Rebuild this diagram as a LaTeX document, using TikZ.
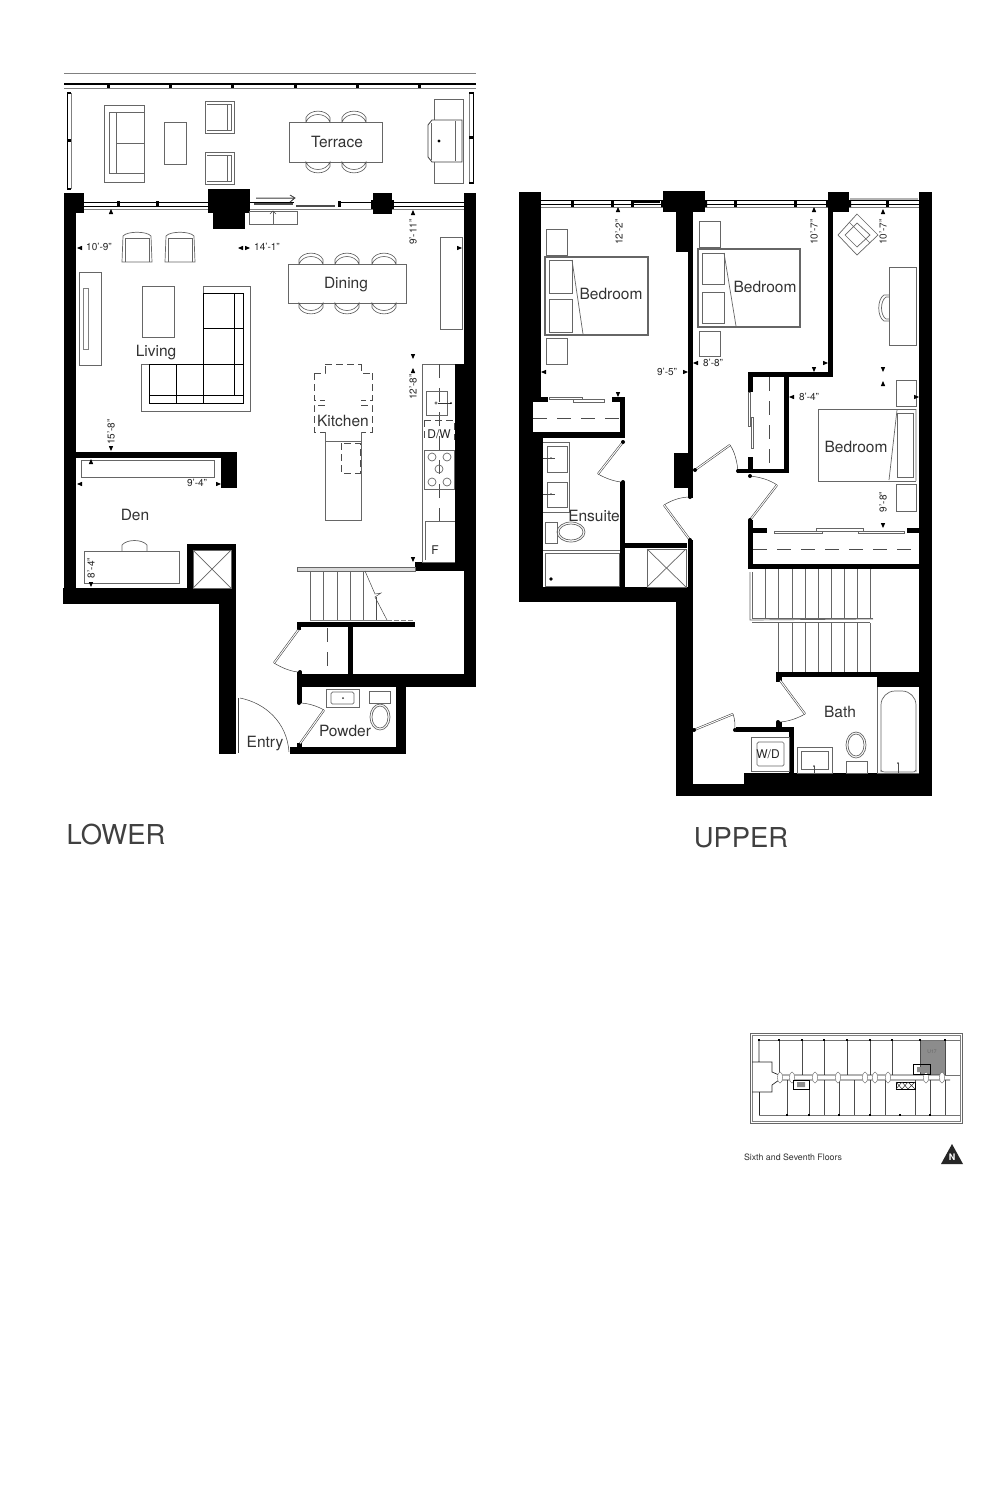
\documentclass[tikz,border=0pt]{standalone}
\usepackage{fontspec}
\setmainfont{TeX Gyre Heros}
\newcommand\W[4]{\fill[black] (#1,#2) rectangle (#3,#4);}
\newcommand\F[4]{\draw[furn] (#1,#2) rectangle (#3,#4);}
\newcommand\Tri[3]{\fill[black,shift={(#1,#2)},rotate=#3] (0,0)--(-5,-2.2)--(-5,2.2)--cycle;}
\newcommand\Win[3]{\draw[winline] (#1,#3) -- (#2,#3); \draw[winline] (#1,#3+4.5) -- (#2,#3+4.5); \draw[gray,line width=.7pt] (#1,#3+7) -- (#2,#3+7);}
\newcommand\Chair[3]{\draw[chairl] (#1,#2) .. controls (#1+4,#2+#3) and (#1+20,#2+#3) .. (#1+24,#2) -- (#1+24,#2+#3*.45) .. controls (#1+20,#2+#3*1.3) and (#1+4,#2+#3*1.3) .. (#1,#2+#3*.45) -- cycle;}
\tikzset{
 furn/.style={draw=black!60,line width=.7pt},
 thin line/.style={draw=black!70,line width=.5pt},
 chairl/.style={draw=black!65,line width=.6pt},
 winline/.style={draw=black,line width=1pt},
 leaf/.style={draw=black!75,double=white,double distance=1pt,line width=.55pt},
 swing/.style={draw=black!75,line width=.5pt},
 dashl/.style={draw=black!70,line width=.6pt,dash pattern=on 14pt off 10pt},
 dashs/.style={draw=black!70,line width=.6pt,dash pattern=on 7pt off 4pt},
 room/.style={text=black!80,font=\fontsize{15.5}{17}\selectfont,inner sep=0pt},
 dim/.style={text=black!85,font=\fontsize{10}{11}\selectfont,inner sep=0pt},
 title/.style={text=black!75,font=\fontsize{27.4}{30}\selectfont,inner sep=0pt},
}
\begin{document}
\begin{tikzpicture}[x=1pt,y=-1pt]
\useasboundingbox (0,0) rectangle (1000,1500);
\fill[white] (0,0) rectangle (1000,1500);
%% ============ LOWER: terrace
\draw[gray,line width=.7pt] (64,73) -- (476,73);
\draw[black,line width=1.6pt] (64,84) -- (476,84);
\draw[gray,line width=.9pt] (64,88) -- (476,88);
\foreach \x in {108,170,232,295,357,419} \W{\x-1.5}{84}{\x+1.5}{88}
\draw[gray,line width=.7pt] (71,93)--(71,189);
\draw[black,line width=1.2pt] (71,93)--(67.5,93)--(67.5,189)--(71,189);
\W{67}{139}{71}{142}
\draw[gray,line width=.7pt] (469,93)--(469,183);
\draw[black,line width=1.2pt] (469,93)--(473.5,93)--(473.5,183)--(469,183);
\W{469}{136}{473}{139}
\F{104}{105}{144}{182}
\F{109}{112}{144}{173}
\draw[furn] (116,112)--(116,173) (116,143)--(144,143);
\F{164}{122}{186}{164}
\foreach \y in {101,152}{
 \F{205}{\y}{234}{\y+32}
 \draw[furn] (207,\y+3)--(231,\y+3)--(231,\y+29)--(207,\y+29);
 \draw[furn] (227,\y+3)--(227,\y+29);}
\F{289}{122}{382}{162}
\foreach \x in {306,342}{\Chair{\x}{122}{-10}\Chair{\x}{162}{10}}
\F{434}{99}{463}{183}
\draw[black!75,line width=.8pt,fill=white] (432,120)--(462,120)--(462,162)--(432,162)--(428,157)--(428,125)--cycle;
\draw[furn] (455,121)--(455,161) (431,123)--(431,160);
\fill[black] (439,141) circle (1.6);
%% lower piers and walls
\W{64}{193}{76}{604}
\W{66}{193}{84}{213}
\W{64}{200}{66}{210}
\W{208}{189}{250}{213}
\W{213}{213}{245}{229}
\W{373}{193}{392}{214}
\W{371}{200}{394}{210}
\W{464}{193}{476}{687}
\W{455}{364}{464}{571}
\W{415}{562}{464}{571}
\W{76}{452}{237}{458}
\W{221}{458}{237}{488}
\W{63}{588}{236}{604}
\W{219}{588}{236}{754}
\W{187}{544}{236}{550}
\W{187}{544}{193}{588}
\W{231}{544}{236}{588}
\W{297}{622}{415}{627}
\W{297}{627}{301}{630}
\W{348}{627}{353}{674}
\W{297}{674}{476}{687}
\W{297}{672}{302}{703}
\W{396}{687}{406}{754}
\W{290}{747}{406}{754}
\W{297}{743}{302}{747}
%% lower windows
\Win{84}{208}{202}
\Win{392}{464}{202}
\draw[gray,line width=.7pt] (250,209)--(373,209);
\draw[winline] (250,202)--(294,202) (340,202)--(373,202);
\draw[black!70,line width=2pt] (254,204)--(293,204);
\draw[black!70,line width=1.5pt] (296,206)--(335,206);
\foreach \x in {118,157,339} \W{\x-1.5}{201}{\x+1.5}{207}
\draw[thin line] (256,198)--(294,198) (290,195)--(295,198)--(290,202);
\F{249}{211}{297}{224}
\draw[furn] (273,211)--(273,224);
\draw[thin line] (270,214)--(273,211)--(276,214);
%% living
\foreach \x in {122,165}{
 \draw[furn] (\x,262)--(\x+1,236)..controls(\x+5,231)and(\x+25,231)..(\x+29,236)--(\x+30,262)--cycle;
 \draw[furn] (\x+3,262)--(\x+3,238)--(\x+27,238)--(\x+27,262);}
\F{79}{272}{101}{365}
\draw[gray,line width=.9pt] (83,288) rectangle (88,349);
\F{142}{286}{174}{337}
\draw[furn] (203,364)--(203,286)--(250,286)--(250,411)--(141,411)--(141,364)--cycle;
\draw[furn,black] (203,293)--(243,293)--(243,403)--(149,403)--(149,364);
\draw[furn,black] (234,293)--(234,395) (203,328)--(243,328) (149,364)--(243,364) (176,364)--(176,403) (203,293)--(203,403) (149,395)--(243,395);
\F{288}{264}{406}{303}
\foreach \x in {299,335,372}{\Chair{\x}{264}{-10}\Chair{\x}{303}{10}}
\F{440}{237}{462}{329}
%% kitchen
\draw[furn] (422,364)--(422,562)--(455,562);
\draw[furn] (422,364)--(455,364);
\draw[dashl] (439,364)--(439,521);
\F{426}{391}{447}{415}
\draw[furn] (436,403) circle (1.2);
\draw[black!80,line width=.6pt] (438,403)--(451,403);
\fill[black] (451,403) circle (1);
\draw[dashs] (424,420)--(424,440) (424,420)--(454,420)--(454,440);
\F{424}{450}{454}{489}
\foreach \x/\y in {432/457,447/457,432/482,447/482,439/469} \draw[furn] (\x,\y) circle (4);
\draw[furn] (425,560)--(425,521)--(455,521);
\draw[dashs] (325,364)--(361,364);
\draw[dashs] (314,373)--(325,373)--(325,364) (361,364)--(361,373)--(372,373);
\draw[dashs] (314,373)--(314,400)--(325,400) (372,373)--(372,400)--(361,400);
\draw[dashs] (325,405)--(314,405)--(314,432)--(325,432) (361,405)--(372,405)--(372,432)--(361,432);
\draw[furn] (325,432)--(325,520)--(361,520)--(361,432) (325,441)--(361,441);
\draw[dashs] (341,443) rectangle (360,473);
%% den
\F{81}{460}{214}{477}
\F{84}{551}{179}{583}
\draw[furn] (122,551)--(122,545)..controls(127,539)and(142,539)..(147,545)--(147,551);
\draw[furn] (193,550)--(231,588) (231,550)--(193,588);
\draw[furn] (193,550) rectangle (231,588);
%% stair
\fill[black!15] (297,567) rectangle (415,571);
\draw[furn] (297,567) rectangle (415,571);
\foreach \x in {310,323,337,350,363} \draw[furn] (\x,571)--(\x,620);
\draw[thin line] (365,571)--(375,594)--(381,593)--(375,597)--(387,620);
\draw[thin line] (376,597)--(376,620);
\draw[gray,line width=.7pt] (310,620)--(387,620);
\draw[gray,line width=.7pt,dash pattern=on 5pt off 2pt] (387,620)--(415,620);
%% lower doors
\draw[leaf] (299,629)--(274,663);
\draw[swing] (274,663)..controls(282,668)and(292,672)..(300,672);
\draw[dashl] (327,628)--(327,672);
\draw[leaf] (239,698)--(239,753);
\draw[swing] (240,698)..controls(265,703)and(287,722)..(289,752);
\draw[leaf] (299,745)--(324,710);
\draw[swing] (299,703)..controls(308,703)and(317,706)..(324,710);
\fill[black] (299,703) circle (2) (299,745) circle (2) (299,628) circle (2) (300,672) circle (2);
%% powder
\F{326}{689}{359}{707}
\draw[furn,rounded corners=1.5pt] (331,692) rectangle (354,704);
\fill[black!80] (343,698) circle (1);
\F{369}{691}{390}{703}
\draw[furn] (380,717) ellipse (10 and 13);
\draw[furn] (380,717) ellipse (8 and 11);
%% lower labels
\node[room] (terrace) at (337,142) {Terrace};
\node[room] (dining) at (346,285) {Dining};
\node[room] (living) at (156,353) {Living};
\node[room] (kitchen) at (343,421) {Kitchen};
\node[room] (den) at (135,515) {Den};
\node[room] (entry) at (265,744) {Entry};
\node[room] (powder) at (345,731) {Powder};
\node[dim,font=\fontsize{12}{13}\selectfont] (dw) at (439,434) {D/W};
\node[dim,font=\fontsize{12}{13}\selectfont] (fr) at (435,550) {F};
\node[dim] (d1) at (99,247) {10'-9''};
\node[dim] (d2) at (267,247) {14'-1''};
\node[dim,rotate=90] (d3) at (413,232) {9'-11''};
\node[dim,rotate=90] (d4) at (413,387) {12'-8''};
\node[dim,rotate=90] (d5) at (111,432) {15'-8''};
\node[dim] (d6) at (197,483) {9'-4''};
\node[dim,rotate=90] (d7) at (91,568) {8'-4''};
\Tri{111}{209}{90}\Tri{77}{248}{180}\Tri{238}{248}{180}\Tri{250}{248}{0}
\Tri{413}{210}{90}\Tri{462}{248}{0}\Tri{413}{359}{270}\Tri{413}{368}{90}
\Tri{111}{451}{270}\Tri{91}{459}{90}\Tri{77}{484}{180}\Tri{221}{484}{0}
\Tri{91}{587}{270}\Tri{413}{562}{270}
\node[title] (lower) at (116,835) {LOWER};
%% ============ UPPER
\W{519}{192}{541}{397}
\W{519}{397}{533}{602}
\W{533}{432}{543}{587}
\W{533}{397}{548}{402}
\W{612}{397}{625}{402}
\W{620}{397}{625}{438}
\W{533}{432}{625}{438}
\W{620}{482}{625}{587}
\W{625}{543}{687}{548}
\W{519}{587}{693}{602}
\W{676}{587}{693}{796}
\W{688}{540}{693}{600}
\W{919}{192}{932}{796}
\W{663}{191}{705}{212}
\W{676}{212}{693}{252}
\W{688}{252}{693}{453}
\W{674}{453}{693}{488}
\W{688}{488}{693}{498}
\W{828}{192}{849}{212}
\W{828}{212}{833}{377}
\W{748}{372}{833}{377}
\W{748}{372}{753}{392}
\W{784}{377}{789}{473}
\W{748}{457}{753}{473}
\W{737}{469}{789}{473}
\W{748}{520}{753}{569}
\W{753}{528}{767}{533}
\W{907}{528}{919}{533}
\W{748}{564}{919}{569}
\W{776}{672}{919}{677}
\W{877}{672}{919}{687}
\W{776}{677}{782}{682}
\W{776}{722}{782}{727}
\W{736}{727}{794}{732}
\W{789}{727}{794}{773}
\W{744}{773}{932}{784}
\W{693}{784}{932}{796}
%% upper windows
\Win{541}{663}{200}
\Win{705}{828}{200}
\Win{849}{919}{200}
\W{634}{200}{660}{203}
\foreach \x in {572,612,632,735,795,887} \W{\x-1.5}{200}{\x+1.5}{207}
\draw[black!30,line width=2pt] (850,199)--(918,199);
\fill[black] (661,200) rectangle (663,207) (705,200) rectangle (707,207) (826,200) rectangle (828,207) (849,200) rectangle (851,207);
%% bedrooms
\draw[black!60,line width=1.2pt] (545,257) rectangle (648,335);
\F{549}{260}{572}{293}\F{549}{299}{572}{332}
\draw[furn] (572,260)--(583,334);
\F{546}{229}{567}{255}\F{546}{338}{567}{364}
\draw[black!60,line width=1.2pt] (698,249) rectangle (800,327);
\F{702}{253}{724}{284}\F{702}{292}{724}{323}
\draw[furn] (724,253)--(736,326);
\F{699}{221}{720}{247}\F{699}{331}{720}{356}
\draw[furn] (857,214)--(878,235)--(857,255)--(838,235)--cycle;
\draw[furn] (849,222)--(870,243) (845,235)--(857,223)--(870,235)--(857,247)--cycle;
\F{889}{267}{916}{345}
\draw[furn] (889,295)--(884,295)..controls(877,299)and(877,317)..(884,321)--(889,321);
\draw[furn] (889,297)--(886,297)..controls(880,301)and(880,315)..(886,319)--(889,319);
\F{896}{380}{916}{406}
\draw[furn] (916,409)--(818,409)--(818,481)--(916,481);
\F{897}{413}{913}{477}
\draw[furn] (897,410)--(889,480) (916,409)--(916,481);
\F{896}{484}{916}{511}
%% closets
\draw[dashl] (533,418)--(620,418);
\F{549}{397}{582}{399}\F{573}{399}{604}{402}
\F{748}{392}{750}{426}\F{751}{417}{753}{448}
\draw[dashl] (769,377)--(769,469);
\F{774}{531}{822}{533}\F{816}{528}{863}{531}\F{858}{531}{904}{533}
\draw[dashl] (753,549)--(919,549);
%% ensuite
\draw[furn] (543,442)--(569,442)--(569,512)--(543,512);
\F{547}{446}{567}{472}\F{547}{482}{567}{507}
\foreach \y in {458,494}{\draw[thin line] (543,\y)--(555,\y); \fill[black!70] (551,\y) circle (1);}
\F{545}{522}{557}{543}
\draw[furn] (571,532) ellipse (14 and 10);
\draw[furn] (571,532) ellipse (12 and 8);
\draw[furn] (543,550)--(620,550);
\F{545}{553}{619}{586}
\fill[black] (551,579) circle (1.8);
\draw[furn] (647,549) rectangle (686,587);
\draw[furn] (647,549)--(686,587) (686,549)--(647,587);
%% upper doors
\draw[leaf] (623,442)--(598,474);
\draw[swing] (598,474)..controls(605,478)and(615,482)..(623,482);
\draw[swing] (690,497)..controls(681,497)and(672,500)..(664,505);
\draw[leaf] (664,505)--(690,540);
\draw[leaf] (695,470)--(730,445);
\draw[swing] (730,445)..controls(735,452)and(737,462)..(738,471);
\draw[swing] (750,476)..controls(760,477)and(770,480)..(777,485);
\draw[leaf] (777,485)--(750,520);
\draw[leaf] (779,679)--(805,714);
\draw[swing] (805,714)..controls(798,718)and(788,722)..(778,722);
\draw[leaf] (694,730)--(733,714);
\draw[swing] (733,714)..controls(735,719)and(735,725)..(735,730);
\fill[black] (623,442) circle (2) (623,482) circle (2) (690,497) circle (2) (690,540) circle (2) (695,470) circle (2) (738,471) circle (2) (750,476) circle (2) (750,520) circle (2) (779,679) circle (2) (778,722) circle (2) (694,730) circle (2) (735,730) circle (2);
%% upper stair
\foreach \x in {765,778,792,805,818,831,844,857,870} \draw[furn] (\x,569)--(\x,618);
\foreach \x in {778,792,805,818,831,844,857,870} \draw[furn] (\x,623)--(\x,672);
\draw[furn] (750,572)--(750,620)--(873,619);
\draw[furn] (752,572)--(752,618)--(873,618);
\draw[furn] (752,622)--(870,622);
%% WD and bath
\F{751}{737}{789}{771}
\draw[furn,rounded corners=1.5pt] (757,742) rectangle (784,766);
\F{797}{747}{832}{773}
\F{801}{751}{828}{769}
\fill[black!70] (814,766) circle (1);
\draw[thin line] (814,766)--(814,773);
\draw[furn] (856,745) ellipse (10 and 13);
\draw[furn] (856,745) ellipse (8 and 11);
\F{846}{761}{867}{773}
\draw[furn] (877,687)--(877,773)--(919,773);
\draw[furn,rounded corners=14pt] (881,772)--(881,691)--(916,691)--(916,772);
\draw[furn] (881,770)..controls(881,772)and(884,772)..(888,772)--(910,772)..controls(914,772)and(916,772)..(916,770);
\fill[black!70] (898,763) circle (1);
\draw[thin line] (898,763)--(898,773);
%% upper labels
\node[room] (bed1) at (611,294) {Bedroom};
\node[room] (bed2) at (765,287) {Bedroom};
\node[room] (bed3) at (856,447) {Bedroom};
\node[room] (ensuite) at (594,516) {Ensuite};
\node[room] (bath) at (840,712) {Bath};
\node[dim,font=\fontsize{12}{13}\selectfont] (wd) at (768,754) {W/D};
\node[dim,rotate=90] (u1) at (619,232) {12'-2''};
\node[dim,rotate=90] (u2) at (814,232) {10'-7''};
\node[dim,rotate=90] (u3) at (883,232) {10'-7''};
\node[dim] (u4) at (667,372) {9'-5''};
\node[dim] (u5) at (713,363) {8'-8''};
\node[dim] (u6) at (809,397) {8'-4''};
\node[dim,rotate=90] (u7) at (883,502) {9'-8''};
\Tri{618}{207}{90}\Tri{814}{207}{90}\Tri{883}{209}{90}
\Tri{541}{372}{180}\Tri{688}{372}{0}\Tri{693}{363}{180}\Tri{828}{363}{0}
\Tri{814}{372}{270}\Tri{789}{397}{180}\Tri{919}{397}{0}
\Tri{883}{372}{270}\Tri{883}{381}{90}\Tri{618}{397}{270}\Tri{883}{528}{270}
\node[title] (upper) at (741,838) {UPPER};
%% ============ key plan
\fill[black!45] (920,1040) rectangle (945,1075);
\draw[black!60,line width=.8pt] (750,1033) rectangle (962,1123);
\draw[black!50,line width=.5pt] (752,1035) rectangle (960,1121);
\draw[black!55,line width=.5pt] (759,1040)--(960,1040) (759,1115)--(960,1115) (945,1075)--(960,1075);
\foreach \x in {779,802,824,847,870,892,920,945} \draw[black!70,line width=.6pt] (\x,1040)--(\x,1075);
\foreach \x in {787,809,824,839,854,870,885,915,930,945} \draw[black!70,line width=.6pt] (\x,1080)--(\x,1115);
\draw[black!85,line width=.7pt] (759,1040)--(759,1062) (752,1062)--(772,1062)--(772,1072)--(779,1075)--(945,1075);
\draw[black!85,line width=.7pt] (779,1080)--(950,1080) (752,1092)--(772,1092)--(772,1085)--(779,1080);
\draw[black!85,line width=.7pt] (759,1092)--(759,1115);
\foreach \x in {780,792,815,838,865,875,888,926,942}{
 \fill[white] (\x,1077.5) ellipse (2.6 and 5.5);
 \draw[black!60,line width=.4pt] (\x,1077.5) ellipse (2.6 and 5.5);}
\draw[black,line width=1pt] (793,1080) rectangle (809,1089);
\draw[black,line width=1pt] (896,1082) rectangle (915,1089);
\draw[black,line width=1pt] (913,1064) rectangle (930,1074);
\draw[black!80,line width=.5pt] (896,1082)--(902,1089) (902,1082)--(896,1089) (902,1082)--(908,1089) (908,1082)--(902,1089) (908,1082)--(915,1089) (915,1082)--(908,1089);
\fill[black!45] (797,1082) rectangle (805,1087) (917,1067) rectangle (927,1072);
\foreach \x in {759,779,802,824,847,870,892,920,945}{\fill[black] (\x-1,1039) rectangle (\x+1,1041);}
\foreach \x in {787,809,839,870,900,930}{\fill[black] (\x-1,1114) rectangle (\x+1,1116);}
\node[inner sep=0pt,text=black!60,font=\fontsize{5}{6}\selectfont] (unit) at (932,1052) {U17};
\node[inner sep=0pt,text=black!80,font=\fontsize{8.8}{10}\selectfont] (floors) at (793,1157) {Sixth and Seventh Floors};
\fill[black!85] (952,1144)--(963,1164)--(941,1164)--cycle;
\node[inner sep=0pt,text=white,font=\fontsize{9}{10}\selectfont\bfseries] (north) at (952,1157) {N};
\end{tikzpicture}
\end{document}
